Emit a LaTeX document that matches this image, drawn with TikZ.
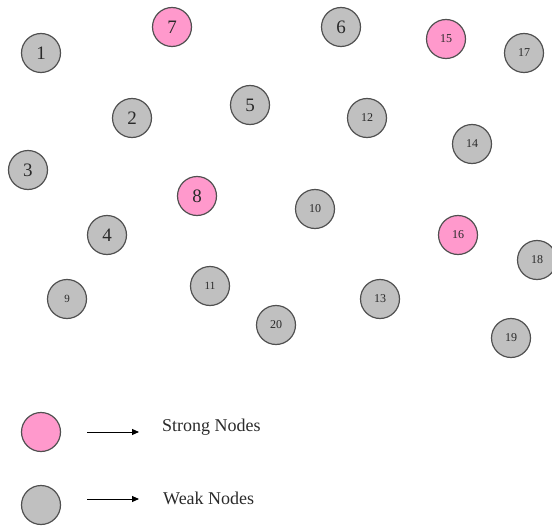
\documentclass[tikz,border=0pt]{standalone}
\usepackage{fontspec}
\setmainfont{Liberation Serif}
\usetikzlibrary{arrows.meta}
\definecolor{nodegray}{HTML}{C0C0C0}
\definecolor{nodepink}{HTML}{FF99CC}
\definecolor{edgegray}{HTML}{505050}
\definecolor{txt}{HTML}{2A2A2A}
\begin{document}
\begin{tikzpicture}[x=1pt,y=-1pt,
  base/.style={circle,draw=edgegray,line width=1.2pt,minimum size=39pt,inner sep=0pt,text=txt},
  weak/.style={base,fill=nodegray},
  strong/.style={base,fill=nodepink},
  big/.style={font=\fontsize{19}{19}\selectfont},
  small/.style={font=\fontsize{12}{12}\selectfont},
  tiny/.style={font=\fontsize{11}{11}\selectfont},
  legtext/.style={anchor=west,text=txt,font=\fontsize{18}{18}\selectfont,inner sep=0pt},
  legarrow/.style={-{Triangle[length=7pt,width=6pt]},line width=0.9pt,draw=black}]
\useasboundingbox (0,0) rectangle (552,527);
\node[weak,big]   (n1)  at (41,53)  {1};
\node[strong,big] (n7)  at (172,27) {7};
\node[weak,big]   (n6)  at (341,27) {6};
\node[strong,small] (n15) at (446,39) {15};
\node[weak,small] (n17) at (524,53) {17};
\node[weak,big]   (n2)  at (132,118) {2};
\node[weak,big]   (n5)  at (250,105) {5};
\node[weak,small] (n12) at (367,118) {12};
\node[weak,small] (n14) at (472,144) {14};
\node[weak,big]   (n3)  at (28,170) {3};
\node[strong,big] (n8)  at (197,196) {8};
\node[weak,small] (n10) at (315,209) {10};
\node[strong,small] (n16) at (458,235) {16};
\node[weak,big]   (n4)  at (107,235) {4};
\node[weak,small] (n18) at (537,260) {18};
\node[weak,tiny]  (n9)  at (67,299) {9};
\node[weak,tiny]  (n11) at (210,286) {11};
\node[weak,small] (n13) at (380,299) {13};
\node[weak,small] (n20) at (276,325) {20};
\node[weak,small] (n19) at (511,338) {19};
% legend
\node[strong] (ls) at (41,432) {};
\node[weak]   (lw) at (41,505) {};
\coordinate (as1) at (87,432);
\coordinate (ae1) at (139,432);
\coordinate (as2) at (87,499);
\coordinate (ae2) at (139,499);
\draw[legarrow] (as1) -- (ae1);
\draw[legarrow] (as2) -- (ae2);
\node[legtext] (ts) at (162,427) {Strong Nodes};
\node[legtext] (tw) at (163,498) {Weak Nodes};
\end{tikzpicture}
\end{document}
